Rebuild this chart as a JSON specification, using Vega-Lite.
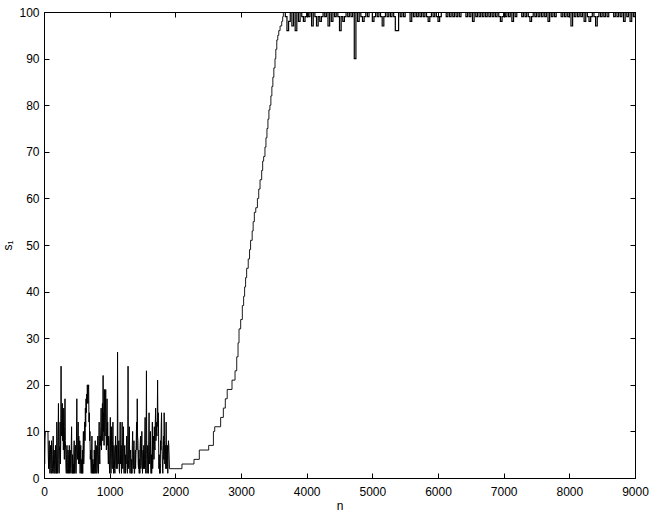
{
  "$schema": "https://vega.github.io/schema/vega-lite/v6.json",
  "width": 591,
  "height": 466,
  "autosize": {"type": "none"},
  "padding": {"left": 44, "top": 12, "right": 19, "bottom": 35},
  "background": "white",
  "datasets": {
    "noise": [
      {"n":0,"s":16},{"n":5,"s":6},{"n":10,"s":3},{"n":15,"s":8},{"n":20,"s":10},{"n":25,"s":10},{"n":30,"s":10},{"n":35,"s":10},{"n":40,"s":10},{"n":45,"s":10},
      {"n":50,"s":10},{"n":55,"s":10},{"n":60,"s":10},{"n":65,"s":5},{"n":70,"s":2},{"n":75,"s":6},{"n":80,"s":8},{"n":85,"s":3},{"n":90,"s":1},{"n":95,"s":5},
      {"n":100,"s":7},{"n":105,"s":2},{"n":110,"s":1},{"n":115,"s":8},{"n":120,"s":6},{"n":125,"s":1},{"n":130,"s":2},{"n":135,"s":5},{"n":140,"s":9},{"n":145,"s":3},
      {"n":150,"s":1},{"n":155,"s":6},{"n":160,"s":4},{"n":165,"s":1},{"n":170,"s":1},{"n":175,"s":7},{"n":180,"s":3},{"n":185,"s":1},{"n":190,"s":1},{"n":195,"s":12},
      {"n":200,"s":8},{"n":205,"s":1},{"n":210,"s":2},{"n":215,"s":9},{"n":220,"s":16},{"n":225,"s":4},{"n":230,"s":1},{"n":235,"s":6},{"n":240,"s":7},{"n":245,"s":12},
      {"n":250,"s":3},{"n":255,"s":8},{"n":260,"s":24},{"n":265,"s":10},{"n":270,"s":9},{"n":275,"s":15},{"n":280,"s":16},{"n":285,"s":8},{"n":290,"s":12},{"n":295,"s":6},
      {"n":300,"s":15},{"n":305,"s":9},{"n":310,"s":4},{"n":315,"s":11},{"n":320,"s":17},{"n":325,"s":8},{"n":330,"s":6},{"n":335,"s":2},{"n":340,"s":1},{"n":345,"s":5},
      {"n":350,"s":7},{"n":355,"s":2},{"n":360,"s":1},{"n":365,"s":6},{"n":370,"s":5},{"n":375,"s":1},{"n":380,"s":2},{"n":385,"s":7},{"n":390,"s":1},{"n":395,"s":4},
      {"n":400,"s":6},{"n":405,"s":2},{"n":410,"s":1},{"n":415,"s":7},{"n":420,"s":11},{"n":425,"s":3},{"n":430,"s":1},{"n":435,"s":5},{"n":440,"s":1},{"n":445,"s":3},
      {"n":450,"s":1},{"n":455,"s":6},{"n":460,"s":8},{"n":465,"s":1},{"n":470,"s":2},{"n":475,"s":6},{"n":480,"s":7},{"n":485,"s":1},{"n":490,"s":1},{"n":495,"s":9},
      {"n":500,"s":17},{"n":505,"s":6},{"n":510,"s":4},{"n":515,"s":8},{"n":520,"s":12},{"n":525,"s":3},{"n":530,"s":9},{"n":535,"s":5},{"n":540,"s":3},{"n":545,"s":8},
      {"n":550,"s":1},{"n":555,"s":5},{"n":560,"s":7},{"n":565,"s":2},{"n":570,"s":1},{"n":575,"s":4},{"n":580,"s":1},{"n":585,"s":6},{"n":590,"s":1},{"n":595,"s":7},
      {"n":600,"s":10},{"n":605,"s":3},{"n":610,"s":5},{"n":615,"s":9},{"n":620,"s":12},{"n":625,"s":8},{"n":630,"s":15},{"n":635,"s":11},{"n":640,"s":17},{"n":645,"s":14},
      {"n":650,"s":18},{"n":655,"s":16},{"n":660,"s":20},{"n":665,"s":17},{"n":670,"s":16},{"n":675,"s":19},{"n":680,"s":20},{"n":685,"s":12},{"n":690,"s":14},{"n":695,"s":8},
      {"n":700,"s":10},{"n":705,"s":4},{"n":710,"s":6},{"n":715,"s":3},{"n":720,"s":1},{"n":725,"s":5},{"n":730,"s":9},{"n":735,"s":2},{"n":740,"s":1},{"n":745,"s":4},
      {"n":750,"s":1},{"n":755,"s":3},{"n":760,"s":1},{"n":765,"s":6},{"n":770,"s":3},{"n":775,"s":1},{"n":780,"s":8},{"n":785,"s":2},{"n":790,"s":1},{"n":795,"s":7},
      {"n":800,"s":6},{"n":805,"s":1},{"n":810,"s":2},{"n":815,"s":7},{"n":820,"s":9},{"n":825,"s":3},{"n":830,"s":1},{"n":835,"s":8},{"n":840,"s":12},{"n":845,"s":5},
      {"n":850,"s":3},{"n":855,"s":9},{"n":860,"s":7},{"n":865,"s":11},{"n":870,"s":15},{"n":875,"s":6},{"n":880,"s":10},{"n":885,"s":13},{"n":890,"s":16},{"n":895,"s":8},
      {"n":900,"s":22},{"n":905,"s":10},{"n":910,"s":14},{"n":915,"s":7},{"n":920,"s":19},{"n":925,"s":12},{"n":930,"s":9},{"n":935,"s":14},{"n":940,"s":19},{"n":945,"s":10},
      {"n":950,"s":6},{"n":955,"s":11},{"n":960,"s":17},{"n":965,"s":7},{"n":970,"s":12},{"n":975,"s":6},{"n":980,"s":3},{"n":985,"s":9},{"n":990,"s":8},{"n":995,"s":3},
      {"n":1000,"s":1},{"n":1005,"s":7},{"n":1010,"s":13},{"n":1015,"s":4},{"n":1020,"s":1},{"n":1025,"s":6},{"n":1030,"s":11},{"n":1035,"s":3},{"n":1040,"s":2},{"n":1045,"s":8},
      {"n":1050,"s":12},{"n":1055,"s":4},{"n":1060,"s":1},{"n":1065,"s":7},{"n":1070,"s":6},{"n":1075,"s":2},{"n":1080,"s":1},{"n":1085,"s":5},{"n":1090,"s":9},{"n":1095,"s":3},
      {"n":1100,"s":2},{"n":1105,"s":7},{"n":1110,"s":5},{"n":1115,"s":2},{"n":1120,"s":27},{"n":1125,"s":8},{"n":1130,"s":3},{"n":1135,"s":6},{"n":1140,"s":8},{"n":1145,"s":2},
      {"n":1150,"s":1},{"n":1155,"s":6},{"n":1160,"s":12},{"n":1165,"s":3},{"n":1170,"s":4},{"n":1175,"s":7},{"n":1180,"s":1},{"n":1185,"s":5},{"n":1190,"s":12},{"n":1195,"s":4},
      {"n":1200,"s":2},{"n":1205,"s":8},{"n":1210,"s":11},{"n":1215,"s":3},{"n":1220,"s":1},{"n":1225,"s":6},{"n":1230,"s":7},{"n":1235,"s":2},{"n":1240,"s":1},{"n":1245,"s":5},
      {"n":1250,"s":3},{"n":1255,"s":7},{"n":1260,"s":9},{"n":1265,"s":2},{"n":1270,"s":1},{"n":1275,"s":6},{"n":1280,"s":24},{"n":1285,"s":4},{"n":1290,"s":2},{"n":1295,"s":7},
      {"n":1300,"s":11},{"n":1305,"s":3},{"n":1310,"s":1},{"n":1315,"s":5},{"n":1320,"s":6},{"n":1325,"s":2},{"n":1330,"s":1},{"n":1335,"s":4},{"n":1340,"s":1},{"n":1345,"s":7},
      {"n":1350,"s":10},{"n":1355,"s":3},{"n":1360,"s":2},{"n":1365,"s":6},{"n":1370,"s":8},{"n":1375,"s":1},{"n":1380,"s":1},{"n":1385,"s":5},{"n":1390,"s":6},{"n":1395,"s":2},
      {"n":1400,"s":5},{"n":1405,"s":8},{"n":1410,"s":12},{"n":1415,"s":6},{"n":1420,"s":17},{"n":1425,"s":9},{"n":1430,"s":8},{"n":1435,"s":3},{"n":1440,"s":2},{"n":1445,"s":6},
      {"n":1450,"s":1},{"n":1455,"s":4},{"n":1460,"s":1},{"n":1465,"s":7},{"n":1470,"s":9},{"n":1475,"s":2},{"n":1480,"s":3},{"n":1485,"s":6},{"n":1490,"s":10},{"n":1495,"s":3},
      {"n":1500,"s":1},{"n":1505,"s":5},{"n":1510,"s":6},{"n":1515,"s":2},{"n":1520,"s":7},{"n":1525,"s":3},{"n":1530,"s":2},{"n":1535,"s":9},{"n":1540,"s":13},{"n":1545,"s":4},
      {"n":1550,"s":1},{"n":1555,"s":8},{"n":1560,"s":23},{"n":1565,"s":5},{"n":1570,"s":1},{"n":1575,"s":6},{"n":1580,"s":7},{"n":1585,"s":2},{"n":1590,"s":1},{"n":1595,"s":8},
      {"n":1600,"s":14},{"n":1605,"s":4},{"n":1610,"s":3},{"n":1615,"s":7},{"n":1620,"s":10},{"n":1625,"s":3},{"n":1630,"s":1},{"n":1635,"s":5},{"n":1640,"s":1},{"n":1645,"s":6},
      {"n":1650,"s":12},{"n":1655,"s":2},{"n":1660,"s":5},{"n":1665,"s":8},{"n":1670,"s":9},{"n":1675,"s":4},{"n":1680,"s":11},{"n":1685,"s":7},{"n":1690,"s":6},{"n":1695,"s":12},
      {"n":1700,"s":15},{"n":1705,"s":8},{"n":1710,"s":12},{"n":1715,"s":10},{"n":1720,"s":9},{"n":1725,"s":13},{"n":1730,"s":21},{"n":1735,"s":11},{"n":1740,"s":14},{"n":1745,"s":9},
      {"n":1750,"s":2},{"n":1755,"s":5},{"n":1760,"s":1},{"n":1765,"s":3},{"n":1770,"s":1},{"n":1775,"s":8},{"n":1780,"s":6},{"n":1785,"s":11},{"n":1790,"s":14},{"n":1795,"s":7},
      {"n":1800,"s":5},{"n":1805,"s":2},{"n":1810,"s":1},{"n":1815,"s":6},{"n":1820,"s":9},{"n":1825,"s":4},{"n":1830,"s":14},{"n":1835,"s":8},{"n":1840,"s":3},{"n":1845,"s":6},
      {"n":1850,"s":7},{"n":1855,"s":2},{"n":1860,"s":12},{"n":1865,"s":5},{"n":1870,"s":2},{"n":1875,"s":6},{"n":1880,"s":7},{"n":1885,"s":1},{"n":1890,"s":5},{"n":1895,"s":8},
      {"n":1900,"s":7},{"n":1910,"s":2}
    ],
    "stairs": [
      {"n":1910,"s":2},{"n":2101,"s":3},{"n":2284,"s":4},{"n":2365,"s":6},{"n":2508,"s":7},{"n":2580,"s":10},{"n":2600,"s":11},{"n":2690,"s":13},{"n":2731,"s":15},{"n":2761,"s":17},
      {"n":2790,"s":19},{"n":2863,"s":21},{"n":2909,"s":23},{"n":2935,"s":26},{"n":2955,"s":29},{"n":2970,"s":32},{"n":2995,"s":34},{"n":3020,"s":37},{"n":3040,"s":39},{"n":3055,"s":41},
      {"n":3070,"s":43},{"n":3086,"s":45},{"n":3110,"s":47},{"n":3130,"s":49},{"n":3146,"s":51},{"n":3170,"s":53},{"n":3185,"s":55},{"n":3203,"s":57},{"n":3225,"s":58},{"n":3250,"s":60},
      {"n":3270,"s":62},{"n":3290,"s":64},{"n":3315,"s":66},{"n":3330,"s":68},{"n":3345,"s":69},{"n":3365,"s":71},{"n":3380,"s":73},{"n":3395,"s":75},{"n":3410,"s":77},{"n":3425,"s":79},
      {"n":3440,"s":80},{"n":3455,"s":82},{"n":3470,"s":84},{"n":3485,"s":86},{"n":3500,"s":88},{"n":3518,"s":90},{"n":3530,"s":92},{"n":3545,"s":94},{"n":3560,"s":95},{"n":3575,"s":96},
      {"n":3595,"s":97},{"n":3620,"s":98},{"n":3635,"s":99},{"n":3645,"s":100},{"n":3650,"s":100}
    ],
    "top": [
      {"n":3650,"s":100},{"n":3675,"s":99},{"n":3700,"s":96},{"n":3725,"s":98},{"n":3750,"s":100},{"n":3775,"s":97},{"n":3800,"s":100},{"n":3825,"s":96},{"n":3850,"s":100},{"n":3875,"s":98},
      {"n":3900,"s":100},{"n":3925,"s":99},{"n":3950,"s":98},{"n":3975,"s":99},{"n":4000,"s":100},{"n":4025,"s":99},{"n":4050,"s":100},{"n":4075,"s":97},{"n":4100,"s":100},{"n":4125,"s":99},
      {"n":4150,"s":97},{"n":4175,"s":99},{"n":4200,"s":98},{"n":4225,"s":99},{"n":4250,"s":100},{"n":4275,"s":99},{"n":4300,"s":100},{"n":4325,"s":97},{"n":4350,"s":100},{"n":4375,"s":98},
      {"n":4400,"s":100},{"n":4425,"s":99},{"n":4450,"s":100},{"n":4475,"s":99},{"n":4500,"s":96},{"n":4525,"s":99},{"n":4550,"s":98},{"n":4575,"s":99},{"n":4600,"s":100},{"n":4625,"s":99},
      {"n":4650,"s":100},{"n":4675,"s":99},{"n":4700,"s":100},{"n":4725,"s":90},{"n":4750,"s":100},{"n":4775,"s":98},{"n":4800,"s":100},{"n":4825,"s":99},{"n":4850,"s":98},{"n":4875,"s":99},
      {"n":4900,"s":100},{"n":4925,"s":99},{"n":4950,"s":100},{"n":4975,"s":100},{"n":5000,"s":98},{"n":5025,"s":99},{"n":5050,"s":100},{"n":5075,"s":99},{"n":5100,"s":100},{"n":5125,"s":99},
      {"n":5150,"s":97},{"n":5175,"s":99},{"n":5200,"s":100},{"n":5225,"s":99},{"n":5250,"s":100},{"n":5275,"s":99},{"n":5300,"s":100},{"n":5325,"s":99},{"n":5350,"s":96},{"n":5375,"s":96},
      {"n":5400,"s":100},{"n":5425,"s":99},{"n":5450,"s":100},{"n":5475,"s":99},{"n":5500,"s":100},{"n":5525,"s":100},{"n":5550,"s":100},{"n":5575,"s":98},{"n":5600,"s":100},{"n":5625,"s":99},
      {"n":5650,"s":100},{"n":5675,"s":99},{"n":5700,"s":100},{"n":5725,"s":99},{"n":5750,"s":100},{"n":5775,"s":99},{"n":5800,"s":100},{"n":5825,"s":99},{"n":5850,"s":98},{"n":5875,"s":99},
      {"n":5900,"s":100},{"n":5925,"s":99},{"n":5950,"s":100},{"n":5975,"s":99},{"n":6000,"s":98},{"n":6025,"s":99},{"n":6050,"s":100},{"n":6075,"s":100},{"n":6100,"s":100},{"n":6125,"s":99},
      {"n":6150,"s":100},{"n":6175,"s":99},{"n":6200,"s":100},{"n":6225,"s":99},{"n":6250,"s":100},{"n":6275,"s":99},{"n":6300,"s":100},{"n":6325,"s":99},{"n":6350,"s":100},{"n":6375,"s":100},
      {"n":6400,"s":100},{"n":6425,"s":99},{"n":6450,"s":100},{"n":6475,"s":99},{"n":6500,"s":100},{"n":6525,"s":98},{"n":6550,"s":100},{"n":6575,"s":99},{"n":6600,"s":100},{"n":6625,"s":99},
      {"n":6650,"s":100},{"n":6675,"s":99},{"n":6700,"s":100},{"n":6725,"s":99},{"n":6750,"s":100},{"n":6775,"s":99},{"n":6800,"s":100},{"n":6825,"s":99},{"n":6850,"s":100},{"n":6875,"s":99},
      {"n":6900,"s":100},{"n":6925,"s":99},{"n":6950,"s":98},{"n":6975,"s":99},{"n":7000,"s":100},{"n":7025,"s":99},{"n":7050,"s":100},{"n":7075,"s":99},{"n":7100,"s":100},{"n":7125,"s":98},
      {"n":7150,"s":100},{"n":7175,"s":99},{"n":7200,"s":100},{"n":7225,"s":100},{"n":7250,"s":100},{"n":7275,"s":99},{"n":7300,"s":100},{"n":7325,"s":99},{"n":7350,"s":100},{"n":7375,"s":99},
      {"n":7400,"s":98},{"n":7425,"s":99},{"n":7450,"s":100},{"n":7475,"s":99},{"n":7500,"s":100},{"n":7525,"s":99},{"n":7550,"s":100},{"n":7575,"s":99},{"n":7600,"s":100},{"n":7625,"s":99},
      {"n":7650,"s":100},{"n":7675,"s":98},{"n":7700,"s":100},{"n":7725,"s":99},{"n":7750,"s":100},{"n":7775,"s":99},{"n":7800,"s":100},{"n":7825,"s":100},{"n":7850,"s":100},{"n":7875,"s":99},
      {"n":7900,"s":100},{"n":7925,"s":99},{"n":7950,"s":100},{"n":7975,"s":99},{"n":8000,"s":100},{"n":8025,"s":97},{"n":8050,"s":100},{"n":8075,"s":99},{"n":8100,"s":100},{"n":8125,"s":99},
      {"n":8150,"s":100},{"n":8175,"s":99},{"n":8200,"s":100},{"n":8225,"s":98},{"n":8250,"s":100},{"n":8275,"s":99},{"n":8300,"s":98},{"n":8325,"s":99},{"n":8350,"s":100},{"n":8375,"s":99},
      {"n":8400,"s":97},{"n":8425,"s":99},{"n":8450,"s":100},{"n":8475,"s":99},{"n":8500,"s":100},{"n":8525,"s":99},{"n":8550,"s":100},{"n":8575,"s":99},{"n":8600,"s":100},{"n":8625,"s":100},
      {"n":8650,"s":100},{"n":8675,"s":99},{"n":8700,"s":100},{"n":8725,"s":99},{"n":8750,"s":100},{"n":8775,"s":99},{"n":8800,"s":100},{"n":8825,"s":98},{"n":8850,"s":100},{"n":8875,"s":99},
      {"n":8900,"s":100},{"n":8925,"s":98},{"n":8950,"s":100},{"n":8975,"s":99},{"n":9000,"s":100}
    ]
  },
  "layer": [
    {
      "data": {"name": "noise"},
      "mark": {"type": "line", "color": "black", "strokeWidth": 1, "clip": true},
      "encoding": {
        "x": {"field": "n", "type": "quantitative", "scale": {"domain": [0, 9000], "nice": false},
          "axis": {"orient": "bottom", "values": [0,1000,2000,3000,4000,5000,6000,7000,8000,9000], "format": "d", "labelFlush": false, "title": "n", "labelPadding": 13, "titlePadding": 3}},
        "y": {"field": "s", "type": "quantitative", "scale": {"domain": [0, 100], "nice": false},
          "axis": {"orient": "left", "values": [0,10,20,30,40,50,60,70,80,90,100], "format": "d", "labelFlush": false, "title": "s₁", "labelPadding": 10, "titlePadding": 4}}
      }
    },
    {
      "data": {"name": "stairs"},
      "mark": {"type": "line", "color": "black", "strokeWidth": 0.9, "interpolate": "step-after", "clip": true},
      "encoding": {
        "x": {"field": "n", "type": "quantitative", "scale": {"domain": [0, 9000], "nice": false},
          "axis": {"orient": "top", "values": [0,1000,2000,3000,4000,5000,6000,7000,8000,9000], "labels": false, "title": null}},
        "y": {"field": "s", "type": "quantitative", "scale": {"domain": [0, 100], "nice": false},
          "axis": {"orient": "right", "values": [0,10,20,30,40,50,60,70,80,90,100], "labels": false, "title": null}}
      }
    },
    {
      "data": {"name": "top"},
      "mark": {"type": "line", "color": "black", "strokeWidth": 1.2, "interpolate": "step-after", "clip": true},
      "encoding": {
        "x": {"field": "n", "type": "quantitative", "scale": {"domain": [0, 9000], "nice": false}, "axis": null},
        "y": {"field": "s", "type": "quantitative", "scale": {"domain": [0, 100], "nice": false}, "axis": null}
      }
    }
  ],
  "resolve": {"axis": {"x": "independent", "y": "independent"}},
  "config": {
    "view": {"stroke": "black", "strokeWidth": 1},
    "axis": {
      "grid": false,
      "domainColor": "black",
      "domainWidth": 1,
      "tickColor": "black",
      "tickSize": -5,
      "tickWidth": 1,
      "labelFont": "Liberation Sans",
      "labelFontSize": 12,
      "labelColor": "black",
      "titleFont": "Liberation Sans",
      "titleFontSize": 12,
      "titleFontWeight": "normal",
      "titleColor": "black"
    }
  }
}
